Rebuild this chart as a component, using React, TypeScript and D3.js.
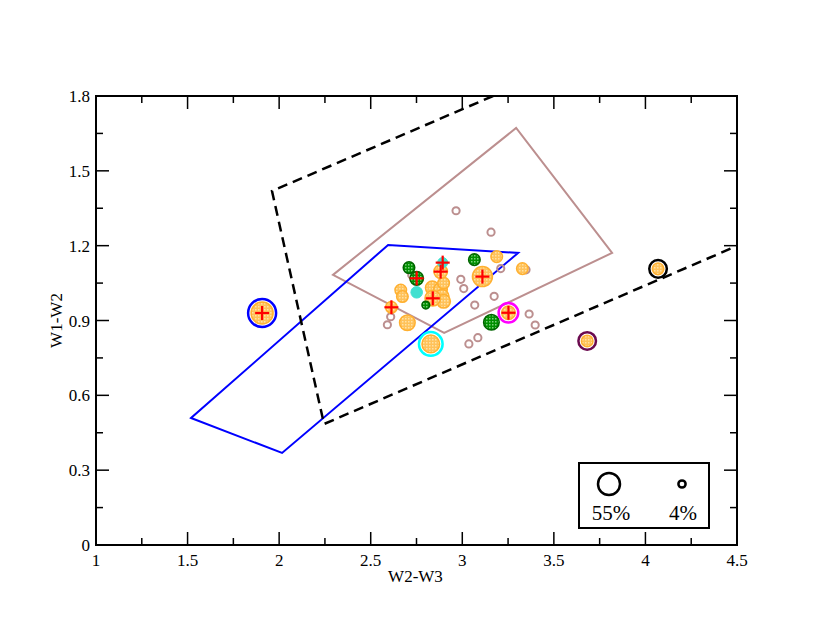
import * as d3 from "d3";
import React from "react";

const width = 830;
const height = 642;
const margin = { top: 96, right: 93, bottom: 97, left: 96 };

// axis ticks
const xMajor = [1, 1.5, 2, 2.5, 3, 3.5, 4, 4.5];
const xLabels = ["1", "1.5", "2", "2.5", "3", "3.5", "4", "4.5"];
const yMajor = [0, 0.3, 0.6, 0.9, 1.2, 1.5, 1.8];
const yLabels = ["0", "0.3", "0.6", "0.9", "1.2", "1.5", "1.8"];

// region outlines, [W2-W3, W1-W2]
const wedge = [[3.168, 1.8], [1.961, 1.419], [2.245, 0.485], [4.5, 1.199]];
const blueBox = [[1.519, 0.509], [2.016, 0.369], [3.305, 1.171], [2.595, 1.203]];
const rosyBox = [[2.294, 1.083], [3.294, 1.672], [3.818, 1.171], [2.901, 0.85]];

// sources: [W2-W3, W1-W2, size %]
const hollow = [
  [2.966, 1.34, 4], [3.157, 1.254, 4], [3.21, 1.108, 4], [3.348, 1.103, 4],
  [2.992, 1.065, 4], [3.008, 1.028, 4], [3.068, 0.962, 4], [3.174, 0.997, 4],
  [3.365, 0.926, 4], [3.398, 0.882, 4], [3.085, 0.831, 4], [3.036, 0.806, 4],
  [2.609, 0.915, 4], [2.591, 0.883, 4], [2.724, 1.082, 4],
];
const orange = [
  [3.188, 1.156, 19], [3.328, 1.108, 19], [2.664, 1.022, 19], [2.673, 0.996, 19],
  [2.7, 0.891, 33], [2.836, 1.031, 26], [2.881, 1.024, 26], [2.89, 0.997, 26],
  [2.898, 0.977, 26], [2.898, 1.05, 19],
];
const orangePlus = [
  [3.11, 1.076, 48], [2.882, 1.096, 26], [2.839, 0.989, 33], [2.613, 0.953, 19],
];
const green = [[2.709, 1.112, 19], [3.066, 1.144, 19], [2.801, 0.962, 6], [3.159, 0.893, 33]];
const greenPlus = [[2.751, 1.069, 26]];
const cyan = [[2.751, 1.013, 19]];
const cyanPlus = [[2.893, 1.132, 14]];
// ringed sources: [W2-W3, W1-W2, size %, ring colour, plus]
const ringed: [number, number, number, string, boolean][] = [
  [1.907, 0.93, 55, "#0000ff", true],
  [3.252, 0.931, 26, "#ff00ff", true],
  [2.828, 0.806, 40, "#00ffff", false],
  [4.069, 1.107, 19, "#000000", false],
  [3.682, 0.818, 19, "#6b0a4f", false],
];

const legendSizes = [55, 4];
const legendLabels = ["55%", "4%"];

const font = "'Liberation Serif', 'DejaVu Serif', serif";

export default function App() {
  const x = d3.scaleLinear().domain([1, 4.5]).range([margin.left, width - margin.right]);
  const y = d3.scaleLinear().domain([0, 1.8]).range([height - margin.bottom, margin.top]);
  const r = d3.scaleLinear().domain([4, 55]).range([3.6, 11]);
  const line = d3.line<number[]>().x((d) => x(d[0])).y((d) => y(d[1]));
  const x0 = x(1), x1 = x(4.5), y0 = y(0), y1 = y(1.8);

  const xMinor = d3.range(1.25, 4.5, 0.5);
  const yMinor = d3.range(0.15, 1.8, 0.3);

  const plus = (cx: number, cy: number, k: string) => (
    <g key={k} stroke="#ff0000" strokeWidth={2.2}>
      <line x1={cx - 7} x2={cx + 7} y1={cy} y2={cy} />
      <line x1={cx} x2={cx} y1={cy - 7} y2={cy + 7} />
    </g>
  );

  return (
    <svg width={width} height={height} style={{ position: "absolute", left: 0, top: 0, background: "#fff" }}>
      <defs>
        <clipPath id="plot">
          <rect x={x0} y={y1} width={x1 - x0} height={y0 - y1} />
        </clipPath>
        <pattern id="orangeFill" width={3} height={3} patternUnits="userSpaceOnUse">
          <rect width={3} height={3} fill="#ffc25a" />
          <rect width={1.5} height={1.5} fill="#ffe2a6" />
        </pattern>
        <pattern id="greenFill" width={3} height={3} patternUnits="userSpaceOnUse">
          <rect width={3} height={3} fill="#008f00" />
          <rect width={1.5} height={1.5} fill="#7ad07a" />
        </pattern>
      </defs>

      {/* outlines */}
      <g clipPath="url(#plot)" fill="none">
        <path d={line(rosyBox)! + "Z"} stroke="#bc8f8f" strokeWidth={2} />
        <path d={line(blueBox)! + "Z"} stroke="#0000ff" strokeWidth={2} />
        <path d={line(wedge)!} stroke="#000" strokeWidth={2.5} strokeDasharray="10,6" />
      </g>

      {/* sources */}
      <g>
        {hollow.map((d, i) => (
          <circle key={"h" + i} cx={x(d[0])} cy={y(d[1])} r={r(d[2])} fill="none" stroke="#bc8f8f" strokeWidth={2} />
        ))}
        {[...orange, ...orangePlus].map((d, i) => (
          <circle key={"o" + i} cx={x(d[0])} cy={y(d[1])} r={r(d[2])} fill="url(#orangeFill)" stroke="#ffb030" strokeWidth={1.5} />
        ))}
        {[...green, ...greenPlus].map((d, i) => (
          <circle key={"g" + i} cx={x(d[0])} cy={y(d[1])} r={r(d[2])} fill="url(#greenFill)" stroke="#006400" strokeWidth={1.5} />
        ))}
        {[...cyan, ...cyanPlus].map((d, i) => (
          <circle key={"c" + i} cx={x(d[0])} cy={y(d[1])} r={r(d[2])} fill="#40e0d0" stroke="#40e0d0" strokeWidth={1} />
        ))}
        {ringed.map((d, i) => (
          <g key={"r" + i}>
            <circle cx={x(d[0])} cy={y(d[1])} r={r(d[2])} fill="url(#orangeFill)" stroke="#ffb030" strokeWidth={1.5} />
            <circle cx={x(d[0])} cy={y(d[1])} r={r(d[2]) + 3} fill="none" stroke={d[3]} strokeWidth={2.5} />
          </g>
        ))}
        {[...orangePlus, ...greenPlus, ...cyanPlus].map((d, i) => plus(x(d[0]), y(d[1]), "p" + i))}
        {ringed.filter((d) => d[4]).map((d, i) => plus(x(d[0]), y(d[1]), "rp" + i))}
      </g>

      {/* frame and ticks */}
      <rect x={x0} y={y1} width={x1 - x0} height={y0 - y1} fill="none" stroke="#000" strokeWidth={2} />
      <g stroke="#000" strokeWidth={1.5}>
        {xMajor.map((t) => (
          <g key={"xM" + t}>
            <line x1={x(t)} x2={x(t)} y1={y0} y2={y0 - 13} />
            <line x1={x(t)} x2={x(t)} y1={y1} y2={y1 + 13} />
          </g>
        ))}
        {xMinor.map((t) => (
          <g key={"xm" + t}>
            <line x1={x(t)} x2={x(t)} y1={y0} y2={y0 - 7} />
            <line x1={x(t)} x2={x(t)} y1={y1} y2={y1 + 7} />
          </g>
        ))}
        {yMajor.map((t) => (
          <g key={"yM" + t}>
            <line x1={x0} x2={x0 + 13} y1={y(t)} y2={y(t)} />
            <line x1={x1} x2={x1 - 13} y1={y(t)} y2={y(t)} />
          </g>
        ))}
        {yMinor.map((t) => (
          <g key={"ym" + t}>
            <line x1={x0} x2={x0 + 7} y1={y(t)} y2={y(t)} />
            <line x1={x1} x2={x1 - 7} y1={y(t)} y2={y(t)} />
          </g>
        ))}
      </g>
      <g style={{ fontFamily: font, fontSize: "17px" }} fill="#000">
        {xMajor.map((t, i) => (
          <text key={"xl" + t} x={x(t)} y={y0 + 21} textAnchor="middle">{xLabels[i]}</text>
        ))}
        {yMajor.map((t, i) => (
          <text key={"yl" + t} x={x0 - 6} y={y(t) + 6} textAnchor="end">{yLabels[i]}</text>
        ))}
        <text x={(x0 + x1) / 2 - 1} y={y0 + 37} textAnchor="middle">W2-W3</text>
        <text transform={`translate(62,${(y0 + y1) / 2}) rotate(-90)`} textAnchor="middle">W1-W2</text>
      </g>

      {/* legend */}
      <g>
        <rect x={579} y={463} width={130} height={65} fill="#fff" stroke="#000" strokeWidth={2} />
        {legendSizes.map((s, i) => (
          <g key={"lg" + i}>
            <circle cx={609 + i * 73} cy={484} r={r(s)} fill="none" stroke="#000" strokeWidth={2.5} />
            <text x={611 + i * 72} y={520} textAnchor="middle" style={{ fontFamily: font, fontSize: "21px" }}>{legendLabels[i]}</text>
          </g>
        ))}
      </g>
    </svg>
  );
}
